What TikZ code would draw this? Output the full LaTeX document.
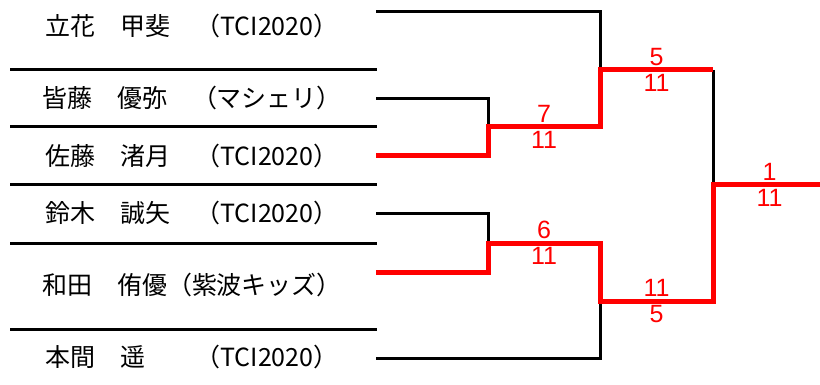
\documentclass[tikz,border=0pt]{standalone}
\usepackage{fontspec}
\setmainfont{Liberation Sans}
\newfontfamily\jpfont{Noto Sans CJK JP}
\usetikzlibrary{positioning}
\tikzstyle{entrant}=[font=\jpfont\fontsize{25}{25}\selectfont, text=black,
                inner sep=0, outer sep=0]
\tikzstyle{rule}=[line width=3pt, black]
\tikzstyle{lose}=[line width=3pt, black]
\tikzstyle{win}=[line width=5pt, red]
\tikzstyle{score}=[font=\fontsize{25}{25}\selectfont, text=red,
                inner sep=0, outer sep=0]
\tikzstyle{up}=[score, above=4.5pt]
\tikzstyle{dn}=[score, below=4.5pt]

\begin{document}
\begin{tikzpicture}[x=1pt,y=-1pt]
  \path[use as bounding box] (0,0) rectangle (820,385);
  % entrants
  \node[entrant] (a) at (192,26) {立花　甲斐　（TCI2020）};
  \node[entrant] (b) at (192,98) {皆藤　優弥　（マシェリ）};
  \node[entrant] (c) at (192,156) {佐藤　渚月　（TCI2020）};
  \node[entrant] (d) at (192,213) {鈴木　誠矢　（TCI2020）};
  \node[entrant] (e) at (192,285) {和田　侑優（紫波キッズ）};
  \node[entrant] (f) at (192,357) {本間　遥　　（TCI2020）};
  % rules between the entrants
  \foreach \y in {70,127,185,243,329}
    \draw[rule] (10,\y) -- (377,\y);
  % bracket
  \coordinate (pa) at (376,12);
  \coordinate (pb) at (376,99);
  \coordinate (pc) at (376,156);
  \coordinate (pd) at (376,214);
  \coordinate (pe) at (376,272);
  \coordinate (pf) at (376,358);
  \coordinate (ra) at (488,127);
  \coordinate (rb) at (488,243);
  \coordinate (sa) at (600,70);
  \coordinate (sb) at (600,301);
  \coordinate (fi) at (713,185);
  \coordinate (ch) at (820,185);
  \draw[lose] (pa) -| (sa);
  \draw[lose] (pb) -| (ra);
  \draw[lose] (pd) -| (rb);
  \draw[lose] (pf) -| (sb);
  \draw[lose] (sa -| fi) -- (fi);
  \draw[win] (pc) -| (ra)
    -- node[up] {7} node[dn] {11} (ra -| sa) -- (sa)
    -- node[up] {5} node[dn] {11} (sa -| fi);
  \draw[win] (pe) -| (rb)
    -- node[up] {6} node[dn] {11} (rb -| sb) -- (sb)
    -- node[up] {11} node[dn] {5} (sb -| fi) -- (fi)
    -- node[up, xshift=3pt] {1} node[dn, xshift=3pt] {11} (ch);
\end{tikzpicture}
\end{document}
